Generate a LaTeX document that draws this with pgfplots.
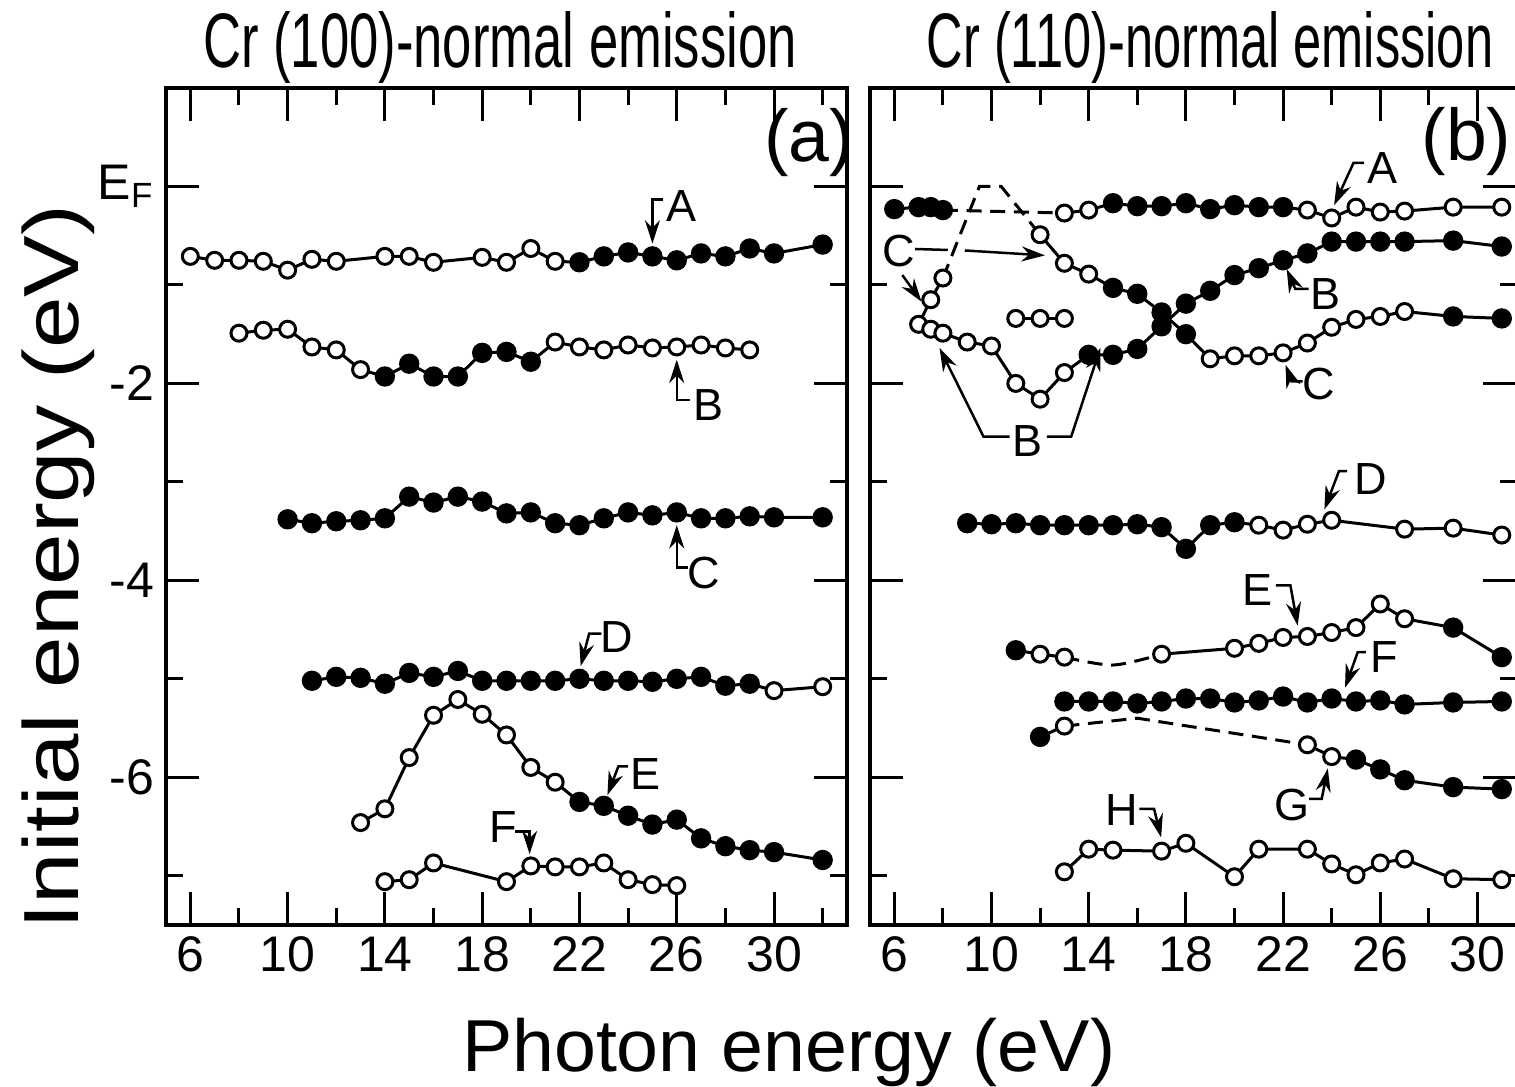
\documentclass[border=0pt]{standalone}
\usepackage{fontspec}
\setmainfont{Liberation Sans}
\usepackage{graphicx}
\usepackage{pgfplots}
\pgfplotsset{compat=1.18}
\usepackage{pgfplotstable}
\usetikzlibrary{arrows.meta}

% ---------------- panel (a) data ----------------
\pgfplotstableread{
x y f
6 -0.71 o
7 -0.75 o
8 -0.75 o
9 -0.76 o
10 -0.85 o
11 -0.74 o
12 -0.76 o
14 -0.71 o
15 -0.71 o
16 -0.77 o
18 -0.72 o
19 -0.77 o
20 -0.63 o
21 -0.76 o
22 -0.77 f
23 -0.71 f
24 -0.67 f
25 -0.71 f
26 -0.75 f
27 -0.68 f
28 -0.71 f
29 -0.63 f
30 -0.68 f
32 -0.59 f
}\Aa
\pgfplotstableread{
x y f
8 -1.49 o
9 -1.46 o
10 -1.45 o
11 -1.63 o
12 -1.66 o
13 -1.86 o
14 -1.93 f
15 -1.80 f
16 -1.93 f
17 -1.93 f
18 -1.69 f
19 -1.68 f
20 -1.78 f
21 -1.58 o
22 -1.63 o
23 -1.66 o
24 -1.61 o
25 -1.64 o
26 -1.63 o
27 -1.61 o
28 -1.64 o
29 -1.66 o
}\Ba
\pgfplotstableread{
x y f
10 -3.38 f
11 -3.42 f
12 -3.40 f
13 -3.39 f
14 -3.37 f
15 -3.15 f
16 -3.21 f
17 -3.15 f
18 -3.20 f
19 -3.32 f
20 -3.31 f
21 -3.42 f
22 -3.44 f
23 -3.37 f
24 -3.31 f
25 -3.34 f
26 -3.31 f
27 -3.37 f
28 -3.37 f
29 -3.35 f
30 -3.36 f
32 -3.36 f
}\Ca
\pgfplotstableread{
x y f
11 -5.02 f
12 -4.98 f
13 -4.99 f
14 -5.05 f
15 -4.94 f
16 -4.98 f
17 -4.92 f
18 -5.02 f
19 -5.02 f
20 -5.02 f
21 -5.02 f
22 -5.00 f
23 -5.02 f
24 -5.02 f
25 -5.03 f
26 -5.00 f
27 -4.98 f
28 -5.07 f
29 -5.05 f
30 -5.12 o
32 -5.08 o
}\Da
\pgfplotstableread{
x y f
13 -6.46 o
14 -6.32 o
15 -5.80 o
16 -5.37 o
17 -5.21 o
18 -5.36 o
19 -5.57 o
20 -5.90 o
21 -6.05 o
22 -6.25 f
23 -6.29 f
24 -6.39 f
25 -6.48 f
26 -6.43 f
27 -6.62 f
28 -6.70 f
29 -6.74 f
30 -6.76 f
32 -6.84 f
}\Ea
\pgfplotstableread{
x y f
14 -7.06 o
15 -7.04 o
16 -6.87 o
19 -7.06 o
20 -6.90 o
21 -6.91 o
22 -6.91 o
23 -6.87 o
24 -7.04 o
25 -7.09 o
26 -7.10 o
}\Fa

% ---------------- panel (b) data ----------------
\pgfplotstableread{
x y f
6 -0.23 f
7 -0.21 f
7.5 -0.21 f
8 -0.24 f
13 -0.27 o
14 -0.24 o
15 -0.17 f
16 -0.20 f
17 -0.20 f
18 -0.17 f
19 -0.23 f
20 -0.19 f
21 -0.21 f
22 -0.21 f
23 -0.24 o
24 -0.32 o
25 -0.21 o
26 -0.26 o
27 -0.25 o
29 -0.21 o
31 -0.21 o
}\Ab
\pgfplotstableread{
x y f
7 -1.40 o
7.5 -1.45 o
8 -1.49 o
9 -1.58 o
10 -1.62 o
11 -2.00 o
12 -2.16 o
13 -1.89 o
14 -1.71 f
15 -1.71 f
16 -1.65 f
17 -1.42 f
18 -1.19 f
19 -1.06 f
20 -0.90 f
21 -0.83 f
22 -0.75 f
23 -0.68 f
24 -0.56 f
25 -0.56 f
26 -0.56 f
27 -0.56 f
29 -0.55 f
31 -0.61 f
}\Bb
\pgfplotstableread{
x y f
7.5 -1.15 o
8 -0.93 o
12 -0.49 o
13 -0.78 o
14 -0.89 o
15 -1.03 f
16 -1.09 f
17 -1.28 f
18 -1.50 f
19 -1.75 o
20 -1.72 o
21 -1.72 o
22 -1.69 o
23 -1.59 o
24 -1.43 o
25 -1.35 o
26 -1.32 o
27 -1.27 o
29 -1.32 f
31 -1.34 f
}\Cb
\pgfplotstableread{
x y f
11 -1.34 o
12 -1.34 o
13 -1.34 o
}\Ob
\pgfplotstableread{
x y f
9 -3.42 f
10 -3.43 f
11 -3.42 f
12 -3.44 f
13 -3.44 f
14 -3.44 f
15 -3.44 f
16 -3.43 f
17 -3.46 f
18 -3.68 f
19 -3.44 f
20 -3.41 f
21 -3.44 o
22 -3.49 o
23 -3.43 o
24 -3.39 o
27 -3.48 o
29 -3.47 o
31 -3.54 o
}\Db
\pgfplotstableread{
x y f
11 -4.71 f
12 -4.75 o
13 -4.78 o
17 -4.75 o
20 -4.69 o
21 -4.64 o
22 -4.58 o
23 -4.57 o
24 -4.53 o
25 -4.48 o
26 -4.24 o
27 -4.39 o
29 -4.48 f
31 -4.78 f
}\Eb
\pgfplotstableread{
x y f
13 -5.23 f
14 -5.23 f
15 -5.23 f
16 -5.25 f
17 -5.23 f
18 -5.20 f
19 -5.20 f
20 -5.24 f
21 -5.22 f
22 -5.18 f
23 -5.24 f
24 -5.20 f
25 -5.23 f
26 -5.22 f
27 -5.26 f
29 -5.24 f
31 -5.23 f
}\Fb
\pgfplotstableread{
x y f
12 -5.59 f
13 -5.48 o
23 -5.67 o
24 -5.79 o
25 -5.82 f
26 -5.92 f
27 -6.03 f
29 -6.10 f
31 -6.12 f
}\Gb
\pgfplotstableread{
x y f
13 -6.96 o
14 -6.73 o
15 -6.74 o
17 -6.75 o
18 -6.67 o
20 -7.01 o
21 -6.73 o
23 -6.73 o
24 -6.88 o
25 -6.99 o
26 -6.87 o
27 -6.83 o
29 -7.03 o
31 -7.04 o
}\Hb

\pgfplotsset{
  panel/.style={
    scale only axis, height=251.1pt,
    xmin=5, ymin=-7.5, ymax=1.0,
    axis line style={line width=1pt},
    every tick/.style={black, line width=0.9pt},
    major tick length=10pt, minor tick length=5pt,
    xtick={6,10,14,18,22,26,30}, minor xtick={8,12,16,20,24,28,32},
    xticklabels={6,10,14,18,22,26,30},
    ytick={0,-2,-4,-6}, minor ytick={-1,-3,-5,-7},
    tick align=inside, tick pos=both,
    ticklabel style={font=\fontsize{15}{15}\selectfont},
    clip=false,
  },
  dline/.style={black, line width=0.9pt, mark=none},
  dash/.style={black, line width=0.9pt, mark=none, dash pattern=on 4.5pt off 2.6pt},
  pts/.style={only marks, scatter, scatter src=explicit symbolic, line width=0.9pt,
    scatter/classes={
      o={mark=*, draw=black, fill=white, mark size=2.4pt},
      f={mark=*, draw=black, fill=black, mark size=2.6pt}}},
}
\tikzset{
  arr/.style={black, line width=0.75pt, -{Stealth[length=7pt,width=4.5pt]}},
  lab/.style={font=\fontsize{13.5}{14}\selectfont, inner sep=0pt, anchor=center},
  plab/.style={font=\fontsize{22}{23}\selectfont, inner sep=0pt, anchor=center},
}

\begin{document}
\begin{tikzpicture}
\path[use as bounding box] (0,0) rectangle (454.5pt,326.1pt);

% ================= panel (a) =================
\begin{axis}[panel, at={(49.8pt,48.6pt)}, anchor=south west,
  width=204.3pt, xmax=33,
  yticklabels={E\textsubscript{F},-2,-4,-6}]
\addplot[dline] table[x=x,y=y] {\Aa};
\addplot[dline] table[x=x,y=y] {\Ba};
\addplot[dline] table[x=x,y=y] {\Ca};
\addplot[dline] table[x=x,y=y] {\Da};
\addplot[dline] table[x=x,y=y] {\Ea};
\addplot[dline] table[x=x,y=y] {\Fa};
\addplot[pts] table[x=x,y=y,meta=f] {\Aa};
\addplot[pts] table[x=x,y=y,meta=f] {\Ba};
\addplot[pts] table[x=x,y=y,meta=f] {\Ca};
\addplot[pts] table[x=x,y=y,meta=f] {\Da};
\addplot[pts] table[x=x,y=y,meta=f] {\Ea};
\addplot[pts] table[x=x,y=y,meta=f] {\Fa};
% labels
\draw[arr] (25.45,-0.13) -- (25,-0.13) -- (25,-0.58);
\node[lab] at (26.2,-0.20) {A};
\draw[arr] (26.55,-2.17) -- (26,-2.17) -- (26,-1.76);
\node[lab] at (27.3,-2.22) {B};
\draw[arr] (26.45,-3.87) -- (26,-3.87) -- (26,-3.44);
\node[lab] at (27.1,-3.93) {C};
\draw[arr] (22.9,-4.54) -- (22.4,-4.54) -- (22.05,-4.87);
\node[lab] at (23.55,-4.58) {D};
\draw[arr] (24.0,-5.89) -- (23.6,-5.89) -- (23.15,-6.18);
\node[lab] at (24.7,-5.97) {E};
\draw[arr] (19.35,-6.55) -- (19.95,-6.55) -- (19.95,-6.78);
\node[lab] at (18.85,-6.50) {F};
\node[plab] at (31.45,0.45) {(a)};
\end{axis}

% ================= panel (b) =================
\begin{axis}[panel, at={(261pt,48.6pt)}, anchor=south west,
  width=193.9pt, xmax=31.6, yticklabels={}]
% lines
\addplot[dline, restrict x to domain=5:8.1] table[x=x,y=y] {\Ab};
\addplot[dash] coordinates {(8,-0.24) (13,-0.27)};
\addplot[dline, restrict x to domain=12.9:32] table[x=x,y=y] {\Ab};
\addplot[dline] table[x=x,y=y] {\Bb};
\addplot[dline] coordinates {(7,-1.40) (7.5,-1.15) (8,-0.93)};
\addplot[dash] coordinates {(8,-0.93) (9.5,0.0) (10.4,0.0) (12,-0.49)};
\addplot[dline, restrict x to domain=11.9:32] table[x=x,y=y] {\Cb};
\addplot[dline] table[x=x,y=y] {\Ob};
\addplot[dline] table[x=x,y=y] {\Db};
\addplot[dline, restrict x to domain=10:13.1] table[x=x,y=y] {\Eb};
\addplot[dash, smooth] coordinates {(13,-4.78) (15,-4.86) (17,-4.75)};
\addplot[dline, restrict x to domain=16.9:32] table[x=x,y=y] {\Eb};
\addplot[dline] table[x=x,y=y] {\Fb};
\addplot[dline, restrict x to domain=11:13.1] table[x=x,y=y] {\Gb};
\addplot[dash] coordinates {(13,-5.48) (16,-5.40) (23,-5.67)};
\addplot[dline, restrict x to domain=22.9:32] table[x=x,y=y] {\Gb};
\addplot[dline] table[x=x,y=y] {\Hb};
% markers
\addplot[pts] table[x=x,y=y,meta=f] {\Ab};
\addplot[pts] table[x=x,y=y,meta=f] {\Bb};
\addplot[pts] table[x=x,y=y,meta=f] {\Cb};
\addplot[pts] table[x=x,y=y,meta=f] {\Ob};
\addplot[pts] table[x=x,y=y,meta=f] {\Db};
\addplot[pts] table[x=x,y=y,meta=f] {\Eb};
\addplot[pts] table[x=x,y=y,meta=f] {\Fb};
\addplot[pts] table[x=x,y=y,meta=f] {\Gb};
\addplot[pts] table[x=x,y=y,meta=f] {\Hb};
% labels
\draw[arr] (25.33,0.24) -- (24.9,0.24) -- (24.1,-0.19);
\node[lab] at (26.1,0.19) {A};
\node[lab] at (6.2,-0.66) {C};
\draw[arr] (6.33,-0.90) -- (7.12,-1.17);
\draw[black, line width=0.75pt] (6.85,-0.635) -- (8.2,-0.645);
\draw[arr] (8.9,-0.65) -- (12.2,-0.70);
\node[lab] at (11.5,-2.59) {B};
\draw[arr] (10.75,-2.54) -- (9.67,-2.54) -- (7.86,-1.64);
\draw[arr] (12.28,-2.54) -- (13.28,-2.54) -- (14.48,-1.64);
\draw[arr] (23.05,-1.04) -- (22.5,-1.04) -- (22.15,-0.84);
\node[lab] at (23.75,-1.09) {B};
\draw[arr] (22.8,-1.98) -- (22.35,-1.98) -- (22.1,-1.81);
\node[lab] at (23.45,-2.01) {C};
\draw[arr] (24.64,-2.89) -- (24.3,-2.89) -- (23.7,-3.28);
\node[lab] at (25.6,-2.97) {D};
\draw[arr] (21.7,-4.05) -- (22.3,-4.05) -- (22.6,-4.46);
\node[lab] at (20.95,-4.10) {E};
\draw[arr] (25.41,-4.73) -- (25.07,-4.73) -- (24.55,-5.09);
\node[lab] at (26.15,-4.78) {F};
\draw[arr] (23.07,-6.22) -- (23.59,-6.22) -- (23.84,-5.91);
\node[lab] at (22.35,-6.28) {G};
\draw[arr] (16.09,-6.32) -- (16.69,-6.32) -- (16.98,-6.61);
\node[lab] at (15.35,-6.33) {H};
\node[plab] at (29.55,0.46) {(b)};
\end{axis}

% titles and axis labels
\node[anchor=base, inner sep=0pt] at (150pt,305.7pt) {\resizebox{178pt}{16.8pt}{Cr (100)-normal emission}};
\node[anchor=base, inner sep=0pt] at (363pt,305.7pt) {\resizebox{170pt}{16.8pt}{Cr (110)-normal emission}};
\node[anchor=base, rotate=90, inner sep=0pt] at (23.4pt,155.9pt) {\resizebox{217.5pt}{17pt}{Initial energy (eV)}};
\node[anchor=base, inner sep=0pt] at (236.6pt,4.8pt) {\resizebox{196pt}{16pt}{Photon energy (eV)}};
\end{tikzpicture}
\end{document}
